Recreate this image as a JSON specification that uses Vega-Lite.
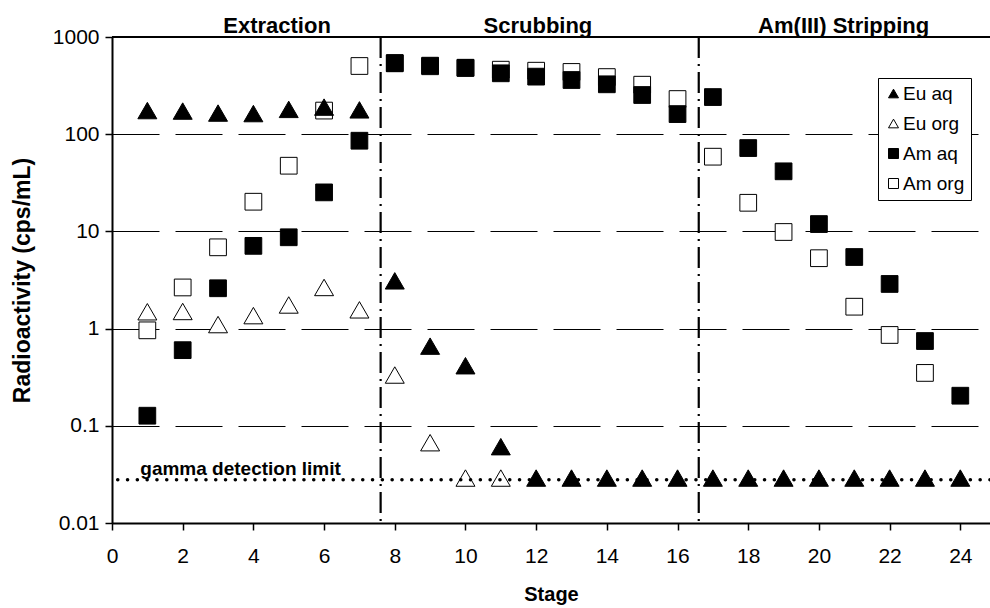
{
  "$schema": "https://vega.github.io/schema/vega-lite/v6.json",
  "width": 878,
  "height": 486,
  "autosize": {"type": "none"},
  "padding": {"left": 112, "top": 37, "right": 0, "bottom": 85},
  "background": "white",
  "config": {
    "font": "Liberation Sans",
    "view": {"stroke": null},
    "axis": {
      "labelFont": "Liberation Sans", "labelFontSize": 21, "labelColor": "black",
      "titleFont": "Liberation Sans", "titleFontSize": 20, "titleFontWeight": "bold", "titleColor": "black",
      "domainColor": "black", "tickColor": "black"
    },
    "legend": {
      "orient": "none", "legendX": 766, "legendY": 41,
      "labelFont": "Liberation Sans", "labelFontSize": 19, "labelColor": "black",
      "padding": 6, "rowPadding": 10, "labelOffset": 0,
      "strokeColor": "black", "fillColor": "white",
      "symbolSize": 100, "symbolStrokeWidth": 1
    }
  },
  "datasets": {
    "am": [
      {"stage": 1, "value": 0.96, "series": "Am org"},
      {"stage": 2, "value": 2.65, "series": "Am org"},
      {"stage": 3, "value": 6.86, "series": "Am org"},
      {"stage": 4, "value": 20.2, "series": "Am org"},
      {"stage": 5, "value": 47.4, "series": "Am org"},
      {"stage": 6, "value": 175, "series": "Am org"},
      {"stage": 7, "value": 503, "series": "Am org"},
      {"stage": 8, "value": 540, "series": "Am org"},
      {"stage": 9, "value": 500, "series": "Am org"},
      {"stage": 10, "value": 480, "series": "Am org"},
      {"stage": 11, "value": 461, "series": "Am org"},
      {"stage": 12, "value": 450, "series": "Am org"},
      {"stage": 13, "value": 437, "series": "Am org"},
      {"stage": 14, "value": 387, "series": "Am org"},
      {"stage": 15, "value": 323, "series": "Am org"},
      {"stage": 16, "value": 230, "series": "Am org"},
      {"stage": 17, "value": 58.7, "series": "Am org"},
      {"stage": 18, "value": 19.7, "series": "Am org"},
      {"stage": 19, "value": 9.86, "series": "Am org"},
      {"stage": 20, "value": 5.3, "series": "Am org"},
      {"stage": 21, "value": 1.68, "series": "Am org"},
      {"stage": 22, "value": 0.86, "series": "Am org"},
      {"stage": 23, "value": 0.35, "series": "Am org"},
      {"stage": 1, "value": 0.127, "series": "Am aq"},
      {"stage": 2, "value": 0.6, "series": "Am aq"},
      {"stage": 3, "value": 2.6, "series": "Am aq"},
      {"stage": 4, "value": 7.1, "series": "Am aq"},
      {"stage": 5, "value": 8.7, "series": "Am aq"},
      {"stage": 6, "value": 25.2, "series": "Am aq"},
      {"stage": 7, "value": 85.7, "series": "Am aq"},
      {"stage": 8, "value": 536, "series": "Am aq"},
      {"stage": 9, "value": 507, "series": "Am aq"},
      {"stage": 10, "value": 483, "series": "Am aq"},
      {"stage": 11, "value": 423, "series": "Am aq"},
      {"stage": 12, "value": 391, "series": "Am aq"},
      {"stage": 13, "value": 361, "series": "Am aq"},
      {"stage": 14, "value": 326, "series": "Am aq"},
      {"stage": 15, "value": 253, "series": "Am aq"},
      {"stage": 16, "value": 161, "series": "Am aq"},
      {"stage": 17, "value": 241, "series": "Am aq"},
      {"stage": 18, "value": 72, "series": "Am aq"},
      {"stage": 19, "value": 41.5, "series": "Am aq"},
      {"stage": 20, "value": 11.9, "series": "Am aq"},
      {"stage": 21, "value": 5.45, "series": "Am aq"},
      {"stage": 22, "value": 2.88, "series": "Am aq"},
      {"stage": 23, "value": 0.745, "series": "Am aq"},
      {"stage": 24, "value": 0.204, "series": "Am aq"}
    ],
    "eu": [
      {"stage": 1, "value": 1.49, "series": "Eu org"},
      {"stage": 2, "value": 1.5, "series": "Eu org"},
      {"stage": 3, "value": 1.1, "series": "Eu org"},
      {"stage": 4, "value": 1.36, "series": "Eu org"},
      {"stage": 5, "value": 1.75, "series": "Eu org"},
      {"stage": 6, "value": 2.65, "series": "Eu org"},
      {"stage": 7, "value": 1.56, "series": "Eu org"},
      {"stage": 8, "value": 0.333, "series": "Eu org"},
      {"stage": 9, "value": 0.067, "series": "Eu org"},
      {"stage": 10, "value": 0.029, "series": "Eu org"},
      {"stage": 11, "value": 0.029, "series": "Eu org"},
      {"stage": 1, "value": 175, "series": "Eu aq"},
      {"stage": 2, "value": 173, "series": "Eu aq"},
      {"stage": 3, "value": 165, "series": "Eu aq"},
      {"stage": 4, "value": 163, "series": "Eu aq"},
      {"stage": 5, "value": 180, "series": "Eu aq"},
      {"stage": 6, "value": 190, "series": "Eu aq"},
      {"stage": 7, "value": 178, "series": "Eu aq"},
      {"stage": 8, "value": 3.1, "series": "Eu aq"},
      {"stage": 9, "value": 0.66, "series": "Eu aq"},
      {"stage": 10, "value": 0.415, "series": "Eu aq"},
      {"stage": 11, "value": 0.061, "series": "Eu aq"},
      {"stage": 12, "value": 0.029, "series": "Eu aq"},
      {"stage": 13, "value": 0.029, "series": "Eu aq"},
      {"stage": 14, "value": 0.029, "series": "Eu aq"},
      {"stage": 15, "value": 0.029, "series": "Eu aq"},
      {"stage": 16, "value": 0.029, "series": "Eu aq"},
      {"stage": 17, "value": 0.029, "series": "Eu aq"},
      {"stage": 18, "value": 0.029, "series": "Eu aq"},
      {"stage": 19, "value": 0.029, "series": "Eu aq"},
      {"stage": 20, "value": 0.029, "series": "Eu aq"},
      {"stage": 21, "value": 0.029, "series": "Eu aq"},
      {"stage": 22, "value": 0.029, "series": "Eu aq"},
      {"stage": 23, "value": 0.029, "series": "Eu aq"},
      {"stage": 24, "value": 0.029, "series": "Eu aq"}
    ],
    "sections": [
      {"stage": 4.67, "label": "Extraction"},
      {"stage": 12.05, "label": "Scrubbing"},
      {"stage": 20.7, "label": "Am(III) Stripping"}
    ],
    "boundaries": [{"stage": 7.6}, {"stage": 16.6}],
    "limit": [{"stage": 0.8, "value": 0.0278, "label": "gamma detection limit"}]
  },
  "layer": [
    {
      "data": {"name": "boundaries"},
      "mark": {"type": "rule", "color": "black", "strokeWidth": 2.2, "strokeDash": [21, 6, 2, 6]},
      "encoding": {
        "x": {"field": "stage", "type": "quantitative", "scale": {"domain": [0, 24.84], "nice": false, "zero": false},
          "axis": {"values": [0, 2, 4, 6, 8, 10, 12, 14, 16, 18, 20, 22, 24], "grid": false, "title": "Stage",
            "domainWidth": 2, "tickSize": 7, "tickWidth": 1.5, "labelPadding": 15, "titlePadding": 18, "labelFlush": false}}
      }
    },
    {
      "data": {"name": "am"},
      "mark": {"type": "point", "filled": true, "opacity": 1, "strokeWidth": 1, "size": 280},
      "encoding": {
        "x": {"field": "stage", "type": "quantitative"},
        "y": {"field": "value", "type": "quantitative",
          "scale": {"type": "log", "domain": [0.01, 1000], "nice": false},
          "axis": {"values": [0.01, 0.1, 1, 10, 100, 1000], "format": "~g", "grid": true, "gridDash": [47, 16],
            "gridColor": "black", "gridWidth": 1, "title": "Radioactivity (cps/mL)", "titleFontSize": 23,
            "domainWidth": 2, "tickSize": 7, "tickWidth": 1.5, "labelPadding": 6, "titlePadding": 18}},
        "shape": {"field": "series", "type": "nominal", "title": null,
          "scale": {"domain": ["Eu aq", "Eu org", "Am aq", "Am org"], "range": ["triangle-up", "triangle-up", "square", "square"]}},
        "fill": {"field": "series", "type": "nominal", "title": null,
          "scale": {"domain": ["Eu aq", "Eu org", "Am aq", "Am org"], "range": ["black", "white", "black", "white"]}},
        "stroke": {"field": "series", "type": "nominal", "title": null,
          "scale": {"domain": ["Eu aq", "Eu org", "Am aq", "Am org"], "range": ["black", "black", "black", "black"]}}
      }
    },
    {
      "data": {"name": "eu"},
      "mark": {"type": "point", "filled": true, "opacity": 1, "strokeWidth": 1, "size": 360},
      "encoding": {
        "x": {"field": "stage", "type": "quantitative"},
        "y": {"field": "value", "type": "quantitative"},
        "shape": {"field": "series", "type": "nominal", "title": null},
        "fill": {"field": "series", "type": "nominal", "title": null},
        "stroke": {"field": "series", "type": "nominal", "title": null}
      }
    },
    {
      "data": {"name": "limit"},
      "mark": {"type": "rule", "color": "black", "strokeWidth": 3.5, "strokeCap": "round", "strokeDash": [0.1, 9.7]},
      "encoding": {"y": {"field": "value", "type": "quantitative"}}
    },
    {
      "data": {"name": "limit"},
      "mark": {"type": "text", "align": "left", "baseline": "alphabetic", "dy": -5, "fontSize": 19, "fontWeight": "bold", "color": "black"},
      "encoding": {
        "x": {"field": "stage", "type": "quantitative"},
        "y": {"field": "value", "type": "quantitative"},
        "text": {"field": "label"}
      }
    },
    {
      "data": {"name": "sections"},
      "mark": {"type": "rule", "color": "black", "strokeWidth": 2},
      "encoding": {"y": {"datum": 1000}}
    },
    {
      "data": {"name": "sections"},
      "mark": {"type": "text", "align": "center", "baseline": "alphabetic", "dy": -4, "fontSize": 22, "fontWeight": "bold", "color": "black"},
      "encoding": {
        "x": {"field": "stage", "type": "quantitative"},
        "y": {"datum": 1000},
        "text": {"field": "label"}
      }
    }
  ]
}
